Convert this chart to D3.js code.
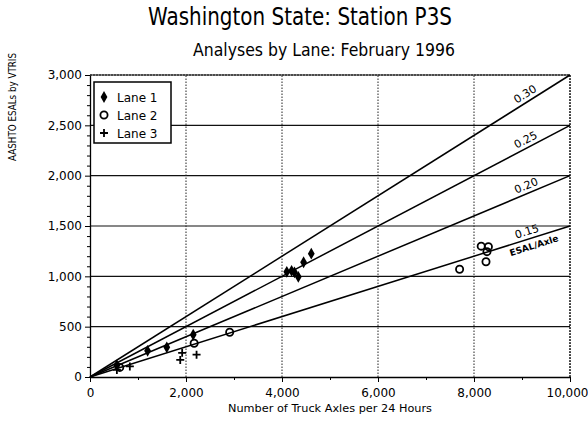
<!DOCTYPE html>
<html><head><meta charset="utf-8">
<script src="https://cdn.jsdelivr.net/npm/d3@7"></script>
<style>body{margin:0;background:#fff}svg{display:block}</style>
</head><body>
<script>
const titleText = "Washington State: Station P3S";
const subtitleText = "Analyses by Lane: February 1996";
const xLabel = "Number of Truck Axles per 24 Hours";
const yLabel = "AASHTO ESALs by VTRIS";
const xTicks = [0, 2000, 4000, 6000, 8000, 10000];
const yTicks = [0, 500, 1000, 1500, 2000, 2500, 3000];
const rates = [0.30, 0.25, 0.20, 0.15];
const rateLabels = ["0.30", "0.25", "0.20", "0.15"];
const lane1 = [[560,115],[1200,260],[1600,295],[2150,420],[4100,1045],[4200,1055],[4260,1040],[4340,995],[4450,1140],[4610,1225]];
const lane2 = [[620,95],[2170,335],[2910,445],[7700,1070],[8150,1300],[8300,1295],[8270,1245],[8250,1145]];
const lane3 = [[560,70],[830,105],[1880,170],[1920,240],[2220,222]];
const laneNames = ["Lane 1", "Lane 2", "Lane 3"];

const W = 588, H = 429;
const m = {l: 90, r: 18, t: 75, b: 52};
const svg = d3.select("body").append("svg").attr("width", W).attr("height", H);
const x = d3.scaleLinear().domain([0, 10000]).range([m.l, W - m.r]);
const y = d3.scaleLinear().domain([0, 3000]).range([H - m.b, m.t]);
const font = "'DejaVu Sans', sans-serif";

// grid
svg.append("g").selectAll("line").data(yTicks.slice(1)).join("line")
  .attr("x1", x(0)).attr("x2", x(10000)).attr("y1", d => y(d)).attr("y2", d => y(d))
  .attr("stroke", "#111").attr("stroke-width", 1.2);
svg.append("g").selectAll("line").data(xTicks.slice(1)).join("line")
  .attr("x1", d => x(d)).attr("x2", d => x(d)).attr("y1", y(0)).attr("y2", y(3000))
  .attr("stroke", "#222").attr("stroke-width", 1).attr("stroke-dasharray", "1.5,1.5");

// axes
const xa = svg.append("g").attr("transform", `translate(0,${y(0)})`)
  .call(d3.axisBottom(x).tickValues(xTicks).tickFormat(d3.format(",")).tickSize(5).tickSizeOuter(0));
const ya = svg.append("g").attr("transform", `translate(${x(0)},0)`)
  .call(d3.axisLeft(y).tickValues(yTicks).tickFormat(d3.format(",")).tickSize(5).tickSizeOuter(0));
[xa, ya].forEach(a => {
  a.select(".domain").attr("stroke", "#000").attr("stroke-width", 1.3);
  a.selectAll(".tick line").attr("stroke", "#000");
  a.selectAll("text").attr("font-family", font).attr("font-size", 12).attr("fill", "#000");
});
xa.selectAll("text").attr("dy", "1.0em");
xa.selectAll(".tick").filter(d => d === 10000).select("text").attr("dx", -3);
// minor ticks
svg.append("g").attr("transform", `translate(0,${y(0)})`)
  .call(d3.axisBottom(x).tickValues(d3.range(1000, 10000, 2000)).tickFormat("").tickSize(3).tickSizeOuter(0))
  .call(g => g.select(".domain").remove());
svg.append("g").attr("transform", `translate(${x(0)},0)`)
  .call(d3.axisLeft(y).tickValues(d3.range(100, 3000, 100).filter(v => v % 500)).tickFormat("").tickSize(3).tickSizeOuter(0))
  .call(g => g.select(".domain").remove());

// top/right borders dotted
svg.append("line").attr("x1", x(0)).attr("x2", x(10000)).attr("y1", y(3000)).attr("y2", y(3000))
  .attr("stroke", "#111").attr("stroke-width", 1.2).attr("stroke-dasharray", "2,1");
svg.append("line").attr("x1", x(10000)).attr("x2", x(10000)).attr("y1", y(0)).attr("y2", y(3000))
  .attr("stroke", "#111").attr("stroke-width", 1.2).attr("stroke-dasharray", "2,1");

// rate lines
svg.append("g").selectAll("line").data(rates).join("line")
  .attr("x1", x(0)).attr("y1", y(0)).attr("x2", x(10000)).attr("y2", d => y(d * 10000))
  .attr("stroke", "#000").attr("stroke-width", 1.5);
const ang = r => -Math.atan((y(0) - y(r * 10000)) / (x(10000) - x(0))) * 180 / Math.PI;
rates.forEach((r, i) => {
  const xv = 9150, px = x(xv), py = y(r * xv);
  svg.append("text").attr("transform", `translate(${px},${py}) rotate(${ang(r)})`)
    .attr("y", -4).attr("text-anchor", "middle").attr("font-family", font).attr("font-size", 11)
    .text(rateLabels[i]);
  if (i === 3) {
    svg.append("text").attr("transform", `translate(${x(9200)},${y(r * 9200)}) rotate(${ang(r)})`)
      .attr("y", 11).attr("text-anchor", "middle").attr("font-family", font).attr("font-size", 9)
      .attr("font-weight", "bold").text("ESAL/Axle");
  }
});

// markers
const diamond = d3.symbol().type(d3.symbolDiamond).size(40);
function drawLane(data, kind, g) {
  const s = g.selectAll("g.pt").data(data).join("g").attr("class", "pt")
    .attr("transform", d => `translate(${x(d[0])},${y(d[1])})`);
  addMarker(s, kind);
}
function addMarker(sel, kind) {
  if (kind === 0) sel.append("path").attr("d", diamond).attr("fill", "#000");
  else if (kind === 1) sel.append("circle").attr("r", 3.6).attr("fill", "none").attr("stroke", "#000").attr("stroke-width", 1.8);
  else {
    sel.append("path").attr("d", "M-4,0H4M0,-4V4").attr("stroke", "#000").attr("stroke-width", 1.8);
  }
}
[lane1, lane2, lane3].forEach((d, i) => drawLane(d, i, svg.append("g")));

// legend
const lg = svg.append("g");
lg.append("rect").attr("x", 94).attr("y", 82).attr("width", 77).attr("height", 61)
  .attr("fill", "#fff").attr("stroke", "#000").attr("stroke-width", 1.5);
laneNames.forEach((n, i) => {
  const gy = 97 + i * 18;
  const mk = lg.append("g").attr("transform", `translate(104,${gy})`);
  addMarker(mk, i);
  lg.append("text").attr("x", 117).attr("y", gy + 4.5).attr("font-family", font).attr("font-size", 12).text(n);
});

// titles
svg.append("text").attr("x", 300).attr("y", 25).attr("text-anchor", "middle").attr("font-family", font)
  .attr("font-size", 25).attr("textLength", 304).attr("lengthAdjust", "spacingAndGlyphs").text(titleText);
svg.append("text").attr("x", 324).attr("y", 56).attr("text-anchor", "middle").attr("font-family", font)
  .attr("font-size", 18).attr("textLength", 262).attr("lengthAdjust", "spacingAndGlyphs").text(subtitleText);
svg.append("text").attr("x", 330).attr("y", 412).attr("text-anchor", "middle").attr("font-family", font)
  .attr("font-size", 11).attr("textLength", 204).attr("lengthAdjust", "spacingAndGlyphs").text(xLabel);
svg.append("text").attr("transform", "translate(16,107) rotate(-90)").attr("text-anchor", "middle")
  .attr("font-family", font).attr("font-size", 11).attr("textLength", 108).attr("lengthAdjust", "spacingAndGlyphs").text(yLabel);
</script>
</body></html>
